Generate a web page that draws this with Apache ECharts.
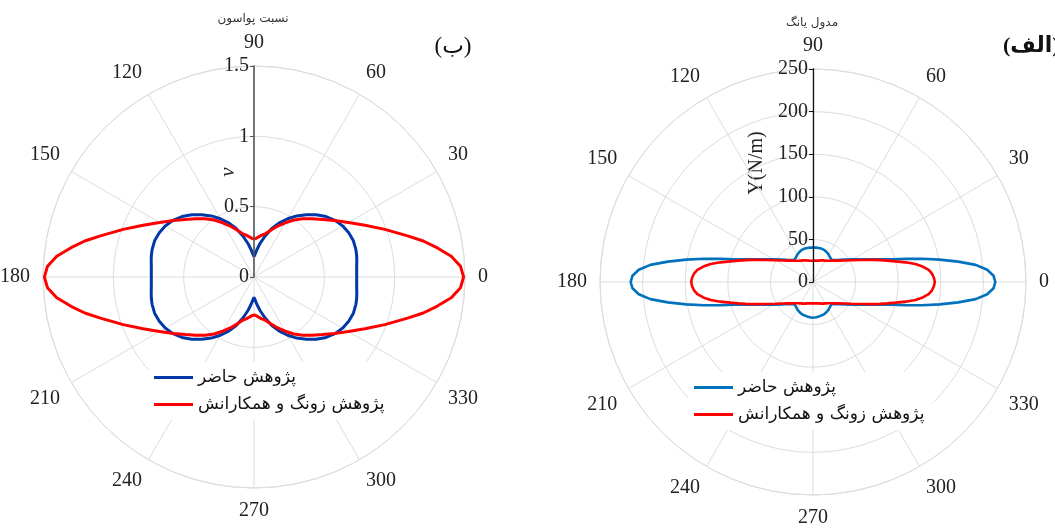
<!DOCTYPE html>
<html>
<head>
<meta charset="utf-8">
<script src="https://cdn.jsdelivr.net/npm/echarts@6/dist/echarts.min.js"></script>
<style>
  html, body { margin: 0; padding: 0; background: #ffffff; }
  #chart { width: 1055px; height: 529px; }
</style>
</head>
<body>
<div id="chart"></div>
<script>
// Series names (legend text)
const nameOurs = 'پژوهش حاضر';
const nameZong = 'پژوهش زونگ و همکارانش';

// Angle tick labels (degrees)
const angleTicks = [0, 30, 60, 90, 120, 150, 180, 210, 240, 270, 300, 330];

// Poisson's ratio panel: radial ticks, sample angles (deg) and values
const poissonTicks = [0, 0.5, 1, 1.5];
const poissonAngles = [
  0, 3, 6, 9, 12, 15, 20, 25, 30, 35, 40, 45, 50, 55, 60, 65, 70, 75, 80, 84, 87, 90,
  93, 96, 100, 105, 110, 115, 120, 125, 130, 135, 140, 145, 150, 155, 160, 165, 168, 171, 174, 177, 180,
  183, 186, 189, 192, 195, 200, 205, 210, 215, 220, 225, 230, 235, 240, 245, 250, 255, 260, 264, 267, 270,
  273, 276, 280, 285, 290, 295, 300, 305, 310, 315, 320, 325, 330, 335, 340, 345, 348, 351, 354, 357, 360
];
const poissonOurs = [
  0.73, 0.731, 0.734, 0.74, 0.746, 0.75, 0.752, 0.743, 0.727, 0.703, 0.668, 0.625, 0.578, 0.53, 0.478, 0.425, 0.365, 0.30, 0.24, 0.195, 0.165, 0.145,
  0.165, 0.195, 0.24, 0.30, 0.365, 0.425, 0.478, 0.53, 0.578, 0.625, 0.668, 0.703, 0.727, 0.743, 0.752, 0.75, 0.746, 0.74, 0.734, 0.731, 0.73,
  0.731, 0.734, 0.74, 0.746, 0.75, 0.752, 0.743, 0.727, 0.703, 0.668, 0.625, 0.578, 0.53, 0.478, 0.425, 0.365, 0.30, 0.24, 0.195, 0.165, 0.145,
  0.165, 0.195, 0.24, 0.30, 0.365, 0.425, 0.478, 0.53, 0.578, 0.625, 0.668, 0.703, 0.727, 0.743, 0.752, 0.75, 0.746, 0.74, 0.734, 0.731, 0.73
];
const poissonZong = [
  1.49, 1.47, 1.41, 1.32, 1.23, 1.13, 0.99, 0.87, 0.775, 0.70, 0.635, 0.585, 0.54, 0.495, 0.445, 0.40, 0.355, 0.32, 0.30, 0.285, 0.275, 0.27,
  0.275, 0.285, 0.30, 0.32, 0.355, 0.40, 0.445, 0.495, 0.54, 0.585, 0.635, 0.70, 0.775, 0.87, 0.99, 1.13, 1.23, 1.32, 1.41, 1.47, 1.49,
  1.47, 1.41, 1.32, 1.23, 1.13, 0.99, 0.87, 0.775, 0.70, 0.635, 0.585, 0.54, 0.495, 0.445, 0.40, 0.355, 0.32, 0.30, 0.285, 0.275, 0.27,
  0.275, 0.285, 0.30, 0.32, 0.355, 0.40, 0.445, 0.495, 0.54, 0.585, 0.635, 0.70, 0.775, 0.87, 0.99, 1.13, 1.23, 1.32, 1.41, 1.47, 1.49
];

// Young's modulus panel: radial ticks, sample angles (deg) and values (N/m)
const youngTicks = [0, 50, 100, 150, 200, 250];
const youngAngles = [
  0, 2, 4, 6, 8, 10, 12, 14, 16, 18, 20, 25, 30, 35, 40, 45, 50, 55, 60, 65, 70, 75, 80, 85, 90,
  95, 100, 105, 110, 115, 120, 125, 130, 135, 140, 145, 150, 155, 160, 162, 164, 166, 168, 170, 172, 174, 176, 178, 180,
  182, 184, 186, 188, 190, 192, 194, 196, 198, 200, 205, 210, 215, 220, 225, 230, 235, 240, 245, 250, 255, 260, 265, 270,
  275, 280, 285, 290, 295, 300, 305, 310, 315, 320, 325, 330, 335, 340, 342, 344, 346, 348, 350, 352, 354, 356, 358, 360
];
const youngOurs = [
  214, 212, 205, 192, 172, 151, 131, 112, 97, 86, 78, 63, 53, 46, 40.5, 36.5, 34, 35, 37, 38.5, 39.7, 40.3, 40.5, 40.5, 40.5,
  40.5, 40.5, 40.3, 39.7, 38.5, 37, 35, 34, 36.5, 40.5, 46, 53, 63, 78, 86, 97, 112, 131, 151, 172, 192, 205, 212, 214,
  212, 205, 192, 172, 151, 131, 112, 97, 86, 78, 63, 53, 46, 40.5, 36.5, 34, 35, 37, 38.5, 39.7, 40.5, 41, 41.5, 42,
  41.5, 41, 40.5, 39.7, 38.5, 37, 35, 34, 36.5, 40.5, 46, 53, 63, 78, 86, 97, 112, 131, 151, 172, 192, 205, 212, 214
];
const youngZong = [
  143, 142, 140, 136.5, 130, 122, 111, 100, 91, 83, 76, 61, 51, 44, 39, 35.5, 32.5, 30.5, 29, 28, 27, 26, 25.5, 25.2, 25,
  25.2, 25.5, 26, 27, 28, 29, 30.5, 32.5, 35.5, 39, 44, 51, 61, 76, 83, 91, 100, 111, 122, 130, 136.5, 140, 142, 143,
  142, 140, 136.5, 130, 122, 111, 100, 91, 83, 76, 61, 51, 44, 39, 35.5, 32.5, 30.5, 29, 28, 27, 26, 25.5, 25.2, 25,
  25.2, 25.5, 26, 27, 28, 29, 30.5, 32.5, 35.5, 39, 44, 51, 61, 76, 83, 91, 100, 111, 122, 130, 136.5, 140, 142, 143
];

// Colours
const blueDark = '#0038A8';
const blueLight = '#0072BD';
const red = '#FF0000';
const gridColor = '#dddddd';
const textColor = '#222222';
const serif = "'Liberation Serif', 'Times New Roman', serif";
const persian = "'DejaVu Sans', sans-serif";

// The angle axis runs 90..450 so that the radius axis points straight up
// while 0 still sits on the right; labels fold back into 0..359.
function toPolar(angles, values) {
  const pts = [];
  angles.forEach(function (a, i) {
    if (a === 360) return;
    pts.push([values[i], a < 90 ? a + 360 : a]);
  });
  pts.sort(function (p, q) { return p[1] - q[1]; });
  pts.push([pts[0][0], pts[0][1] + 360]);
  return pts;
}

function angleAxisFor(polarIndex, visible) {
  const step = angleTicks[1] - angleTicks[0];
  return {
    polarIndex: polarIndex,
    type: 'value',
    min: 90,
    max: 450,
    interval: step,
    startAngle: 90,
    clockwise: false,
    show: visible,
    axisLine: { show: true, lineStyle: { color: gridColor, width: 1 } },
    axisTick: { show: false },
    axisLabel: {
      show: true,
      margin: 13,
      color: textColor,
      fontFamily: serif,
      fontSize: 20,
      formatter: function (v) { return String(v % 360); }
    },
    splitLine: { show: true, lineStyle: { color: gridColor, width: 1 } }
  };
}

function gridRadiusAxis(polarIndex, ticks) {
  return {
    polarIndex: polarIndex,
    type: 'value',
    min: ticks[0],
    max: ticks[ticks.length - 1],
    interval: ticks[1] - ticks[0],
    axisLine: { show: false },
    axisTick: { show: false },
    axisLabel: { show: false },
    splitLine: { show: true, lineStyle: { color: gridColor, width: 1 } }
  };
}

function labelRadiusAxis(polarIndex, ticks, lineColor, lineWidth) {
  return {
    polarIndex: polarIndex,
    type: 'value',
    z: 10,
    min: ticks[0],
    max: ticks[ticks.length - 1],
    interval: ticks[1] - ticks[0],
    axisLine: { show: true, lineStyle: { color: lineColor, width: lineWidth } },
    axisTick: { show: true, length: 4, lineStyle: { color: lineColor, width: 1 } },
    axisLabel: { show: true, margin: 5, color: textColor, fontFamily: serif, fontSize: 20 },
    splitLine: { show: false }
  };
}

function legendFor(left, top, blue) {
  return {
    orient: 'vertical',
    left: left,
    top: top,
    icon: 'rect',
    itemWidth: 39,
    itemHeight: 3,
    itemGap: 10,
    padding: [7, 8, 7, 6],
    backgroundColor: '#ffffff',
    selectedMode: false,
    textStyle: { fontFamily: persian, fontSize: 17, color: '#111111', padding: [0, 0, 0, 0] },
    data: [
      { name: nameOurs, itemStyle: { color: blue } },
      { name: nameZong, itemStyle: { color: red } }
    ]
  };
}

const leftCenter = [254, 277];
const rightCenter = [813, 282];
const leftRadius = 211;
const rightRadius = 213;

const chart = echarts.init(document.getElementById('chart'), null, { renderer: 'canvas' });

chart.setOption({
  animation: false,
  backgroundColor: '#ffffff',
  polar: [
    { center: leftCenter, radius: leftRadius },
    { center: rightCenter, radius: rightRadius },
    { center: leftCenter, radius: leftRadius },
    { center: rightCenter, radius: rightRadius }
  ],
  angleAxis: [
    angleAxisFor(0, true),
    angleAxisFor(1, true),
    angleAxisFor(2, false),
    angleAxisFor(3, false)
  ],
  radiusAxis: [
    gridRadiusAxis(0, poissonTicks),
    gridRadiusAxis(1, youngTicks),
    labelRadiusAxis(2, poissonTicks, '#555555', 1.6),
    labelRadiusAxis(3, youngTicks, '#111111', 1.3)
  ],
  legend: [
    legendFor(148, 362, blueDark),
    legendFor(688, 372, blueLight)
  ],
  series: [
    {
      type: 'line', name: nameOurs, coordinateSystem: 'polar', polarIndex: 0,
      data: toPolar(poissonAngles, poissonOurs), symbol: 'none', z: 3,
      lineStyle: { color: blueDark, width: 3 }, itemStyle: { color: blueDark }
    },
    {
      type: 'line', name: nameZong, coordinateSystem: 'polar', polarIndex: 0,
      data: toPolar(poissonAngles, poissonZong), symbol: 'none', z: 4,
      lineStyle: { color: red, width: 3 }, itemStyle: { color: red }
    },
    {
      type: 'line', name: nameOurs, coordinateSystem: 'polar', polarIndex: 1,
      data: toPolar(youngAngles, youngOurs), symbol: 'none', z: 3,
      lineStyle: { color: blueLight, width: 2.6 }, itemStyle: { color: blueLight }
    },
    {
      type: 'line', name: nameZong, coordinateSystem: 'polar', polarIndex: 1,
      data: toPolar(youngAngles, youngZong), symbol: 'none', z: 4,
      lineStyle: { color: red, width: 2.6 }, itemStyle: { color: red }
    }
  ],
  graphic: [
    { type: 'text', x: 253, y: 19, style: { text: 'نسبت پواسون', font: '12px ' + persian, fill: '#333333', align: 'center', verticalAlign: 'middle' } },
    { type: 'text', x: 812, y: 23, style: { text: 'مدول یانگ', font: '12px ' + persian, fill: '#333333', align: 'center', verticalAlign: 'middle' } },
    { type: 'text', x: 453, y: 47, style: { text: '(ب)', font: '23px ' + serif + ", 'DejaVu Sans'", fill: '#111111', align: 'center', verticalAlign: 'middle' } },
    { type: 'text', x: 1003, y: 46, style: { text: '(الف)', font: 'bold 22px ' + serif + ", 'DejaVu Sans'", fill: '#111111', align: 'left', verticalAlign: 'middle' } },
    { type: 'text', x: 228, y: 172, rotation: Math.PI / 2, style: { text: 'ν', font: 'italic 21px ' + serif, fill: textColor, align: 'center', verticalAlign: 'middle' } },
    { type: 'text', x: 757, y: 163, rotation: Math.PI / 2, style: { text: 'Y(N/m)', font: '20px ' + serif, fill: textColor, align: 'center', verticalAlign: 'middle' } }
  ]
});
</script>
</body>
</html>
